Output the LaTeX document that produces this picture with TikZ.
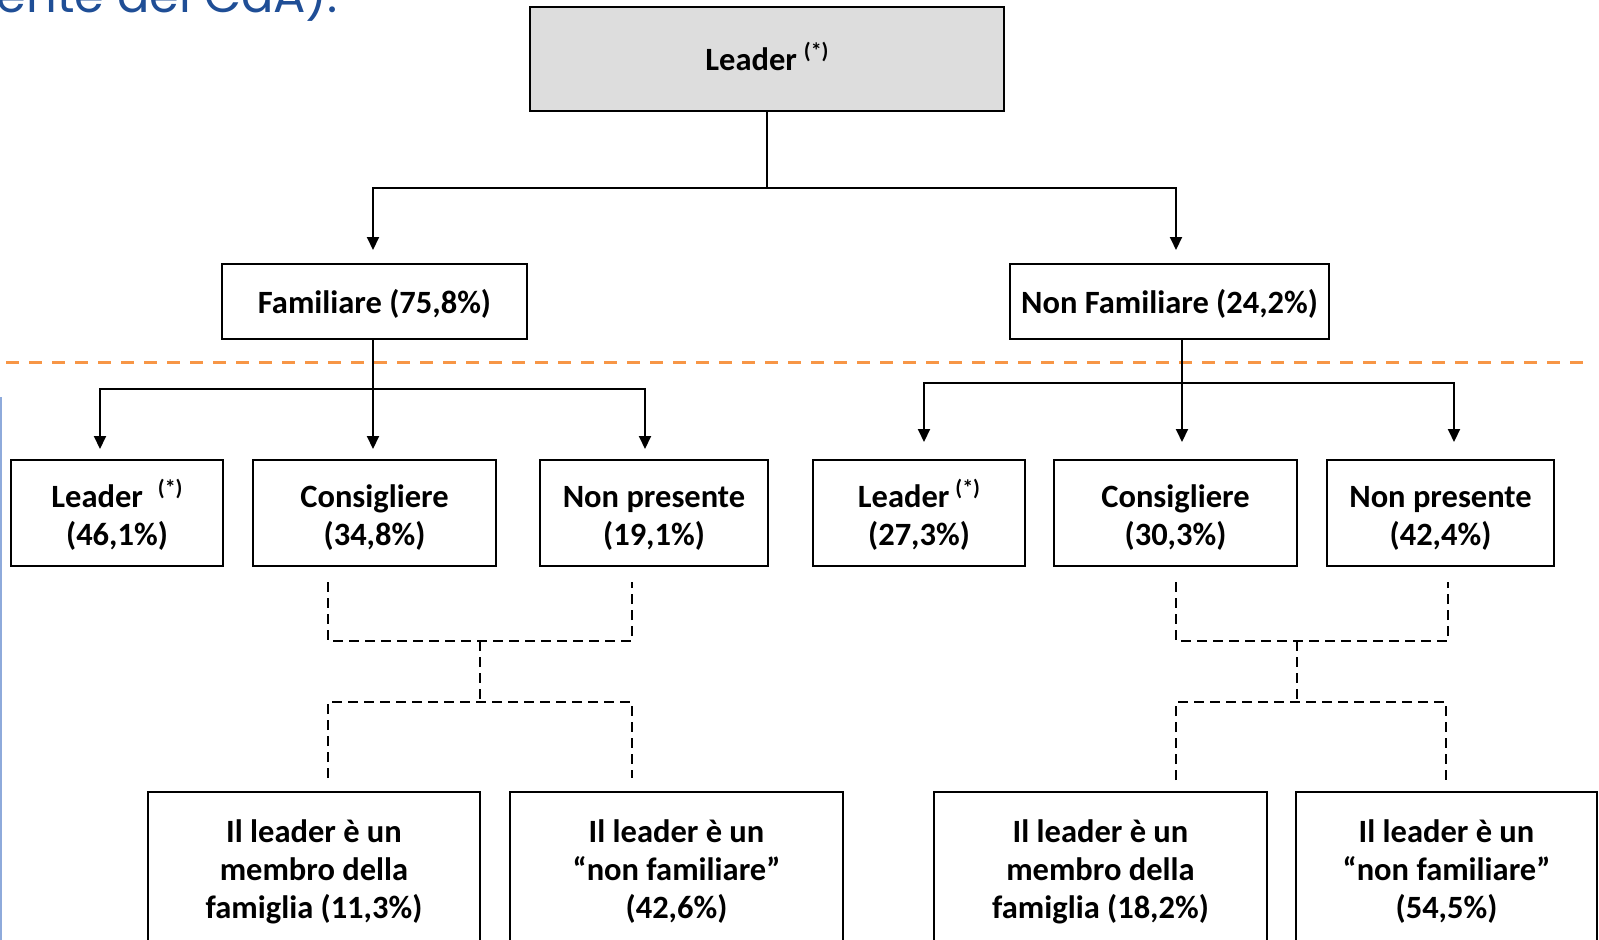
\documentclass[tikz,border=0pt]{standalone}
\usepackage{fontspec}
\setmainfont{Carlito}
\newfontfamily\titlefont{Poppins}
\usetikzlibrary{arrows.meta}

\definecolor{boxgray}{HTML}{DDDDDD}
\definecolor{sepline}{HTML}{F79646}
\definecolor{sidebar}{HTML}{8EAADB}
\definecolor{titleblue}{HTML}{1F4E96}

% raised footnote mark "(*)" that does not change the line height
\newcommand{\starmark}{\raisebox{12pt}[0pt][0pt]{\fontsize{22}{22}\selectfont(*)}}
% invisible strut that sets the height of a box's first line
\newcommand{\headstrut}[1][32pt]{\rule{0pt}{#1}}

\begin{document}
\begin{tikzpicture}[x=1pt,y=-1pt,
  box/.style={draw=black, line width=2pt, align=center, inner sep=0pt,
    font=\fontsize{32.5}{38}\selectfont\bfseries},
  link/.style={line width=2pt},
  arrowlink/.style={line width=2pt, -{Triangle[width=12pt,length=13pt]}},
  bothtips/.style={line width=2pt,
    {Triangle[width=12pt,length=13pt]}-{Triangle[width=12pt,length=13pt]}},
  dashlink/.style={line width=1.5pt, dash pattern=on 10pt off 6pt},
]
\useasboundingbox (0,0) rectangle (1599,940);

% heading line running off the top edge
\begin{scope}
  \clip (0,0) rectangle (1599,940);
  \node[anchor=base east, inner sep=0pt, text=titleblue,
    font=\titlefont\fontsize{48}{48}\selectfont] (title) at (338,12) {presidente del CdA).};
\end{scope}

% left side bar and separator
\draw[sidebar, line width=2.5pt] (1,397) -- (1,940);
\draw[sepline, line width=3pt, dash pattern=on 13pt off 10pt] (6,362) -- (1586,362);

% boxes
\node[box, fill=boxgray, minimum width=474pt, minimum height=104pt] (top) at (767,59)
  {Leader\hspace{7pt}\starmark};

\node[box, minimum width=305pt, minimum height=75pt] (fam) at (374.5,301.5) {\headstrut[29pt]Familiare (75,8\%)};
\node[box, minimum width=319pt, minimum height=75pt] (nonfam) at (1169.5,301.5) {\headstrut[29pt]Non Familiare (24,2\%)};

\node[box, minimum width=212pt, minimum height=106pt] (lf) at (117,513) {\headstrut Leader\hspace{15pt}\starmark\\(46,1\%)};
\node[box, minimum width=243pt, minimum height=106pt] (cf) at (374.5,513) {\headstrut Consigliere\\(34,8\%)};
\node[box, minimum width=228pt, minimum height=106pt] (nf) at (654,513) {\headstrut Non presente\\(19,1\%)};
\node[box, minimum width=212pt, minimum height=106pt] (ln) at (919,513) {\headstrut Leader\hspace{6pt}\starmark\\(27,3\%)};
\node[box, minimum width=243pt, minimum height=106pt] (cn) at (1175.5,513) {\headstrut Consigliere\\(30,3\%)};
\node[box, minimum width=227pt, minimum height=106pt] (nn) at (1440.5,513) {\headstrut Non presente\\(42,4\%)};

\node[box, minimum width=332pt, minimum height=154pt] (bf1) at (314,869) {\headstrut[28pt]Il leader è un\\membro della\\famiglia (11,3\%)};
\node[box, minimum width=333pt, minimum height=154pt] (bf2) at (676.5,869) {\headstrut[28pt]Il leader è un\\“non familiare”\\(42,6\%)};
\node[box, minimum width=333pt, minimum height=154pt] (bn1) at (1100.5,869) {\headstrut[28pt]Il leader è un\\membro della\\famiglia (18,2\%)};
\node[box, minimum width=301pt, minimum height=154pt] (bn2) at (1446.5,869) {\headstrut[28pt]Il leader è un\\“non familiare”\\(54,5\%)};

% top split
\coordinate (j0) at (767,188);
\coordinate (al) at (373,250);
\coordinate (ar) at (1176,250);
\draw[link] (top.south) -- (j0);
\draw[bothtips] (al) -- (al |- j0) -- (ar |- j0) -- (ar);

% Familiare split
\coordinate (fh) at (373,389);
\coordinate (fl) at (100,449);
\coordinate (fc) at (373,449);
\coordinate (fr) at (645,449);
\draw[arrowlink] (fam.south -| fc) -- (fc);
\draw[bothtips] (fl) -- (fl |- fh) -- (fr |- fh) -- (fr);

% Non Familiare split
\coordinate (nh) at (1182,383);
\coordinate (nl) at (924,442);
\coordinate (nc) at (1182,442);
\coordinate (nr) at (1454,442);
\draw[arrowlink] (nonfam.south -| nc) -- (nc);
\draw[bothtips] (nl) -- (nl |- nh) -- (nr |- nh) -- (nr);

% dashed links, family side
\coordinate (p1) at (328,582);
\coordinate (p2) at (632,582);
\coordinate (m1) at (480,641);
\coordinate (m2) at (480,702);
\coordinate (q1) at (328,778);
\coordinate (q2) at (632,778);
\draw[dashlink] (p1) -- (p1 |- m1) -- (p2 |- m1) -- (p2);
\draw[dashlink] (m1) -- (m2);
\draw[dashlink] (q1) -- (q1 |- m2) -- (q2 |- m2) -- (q2);

% dashed links, non-family side
\coordinate (p3) at (1176,582);
\coordinate (p4) at (1448,582);
\coordinate (m3) at (1297,641);
\coordinate (m4) at (1297,702);
\coordinate (q3) at (1176,780);
\coordinate (q4) at (1446,780);
\draw[dashlink] (p3) -- (p3 |- m3) -- (p4 |- m3) -- (p4);
\draw[dashlink] (m3) -- (m4);
\draw[dashlink] (q3) -- (q3 |- m4) -- (q4 |- m4) -- (q4);

\end{tikzpicture}
\end{document}
